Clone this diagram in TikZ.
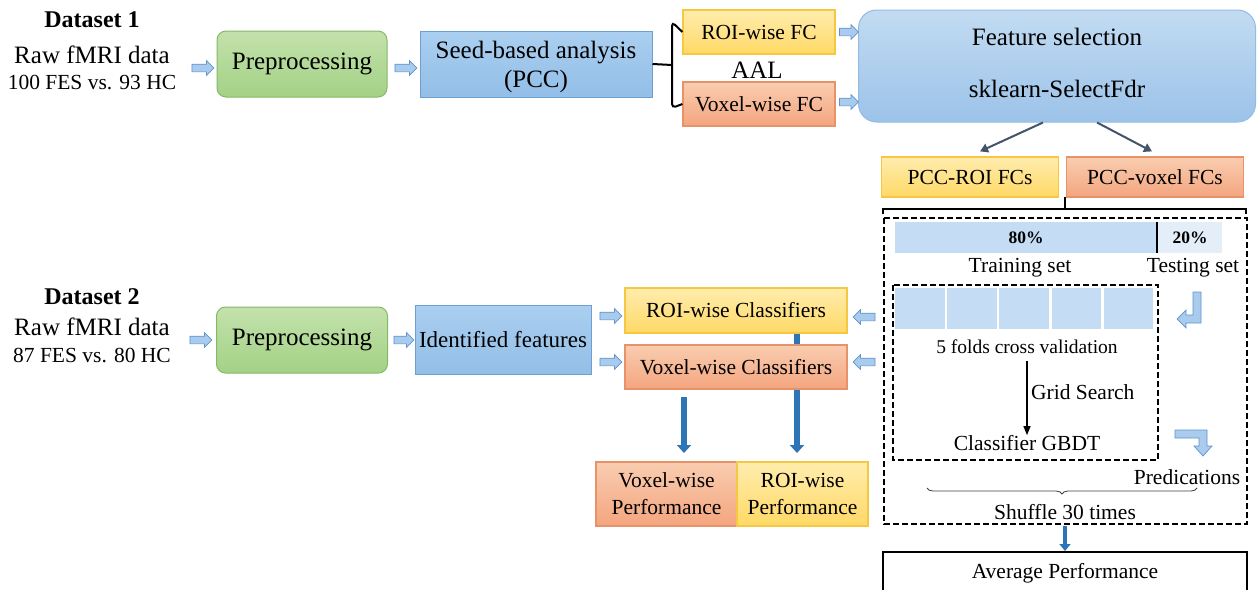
\documentclass[tikz,border=0pt]{standalone}
\usepackage{fontspec}
\setmainfont{Liberation Serif}
\usetikzlibrary{shapes.arrows, arrows.meta, calc, decorations.pathreplacing}

\definecolor{grnT}{HTML}{C3E2AC}
\definecolor{grnB}{HTML}{A3D185}
\definecolor{grnL}{HTML}{86B866}
\definecolor{bluT}{HTML}{AACFF0}
\definecolor{bluB}{HTML}{93BEE7}
\definecolor{bluL}{HTML}{6E9FD4}
\definecolor{fsT}{HTML}{C2DBF2}
\definecolor{fsB}{HTML}{9CC3E9}
\definecolor{fsL}{HTML}{94BBE3}
\definecolor{yelT}{HTML}{FFEDAE}
\definecolor{yelB}{HTML}{FFD966}
\definecolor{yelL}{HTML}{F6C743}
\definecolor{orgT}{HTML}{F9CDB0}
\definecolor{orgB}{HTML}{F4A57F}
\definecolor{orgL}{HTML}{E8926A}
\definecolor{arrF}{HTML}{A9CBEE}
\definecolor{arrL}{HTML}{5E93CC}
\definecolor{deepblue}{HTML}{2E75B6}
\definecolor{slate}{HTML}{44546A}
\definecolor{barA}{HTML}{C5DDF4}
\definecolor{barB}{HTML}{E3EEF9}

\newcommand\fsz[2]{\fontsize{#1}{#2}\selectfont}

\tikzset{
  tx/.style={inner sep=0pt, font=\fsz{21.5}{25}},
  txbig/.style={inner sep=0pt, font=\fsz{25}{29}},
  greenbox/.style={draw=grnL, line width=1pt, top color=grnT, bottom color=grnB,
    rounded corners=9pt, inner sep=0pt, font=\fsz{25}{29}},
  bluebox/.style={draw=bluL, line width=1pt, top color=bluT, bottom color=bluB,
    inner sep=0pt, align=center},
  yelbox/.style={draw=yelL, line width=1.2pt, top color=yelT, bottom color=yelB,
    inner sep=0pt, align=center, font=\fsz{21.5}{27}},
  orgbox/.style={draw=orgL, line width=1.2pt, top color=orgT, bottom color=orgB,
    inner sep=0pt, align=center, font=\fsz{21.5}{27}},
  blockarrow/.style={single arrow, draw=arrL, fill=arrF, line width=0.7pt,
    minimum height=22pt, inner xsep=0pt, inner ysep=3.5pt,
    single arrow head extend=3.5pt},
  leftarrow/.style={blockarrow, shape border rotate=180},
  thickarrow/.style={draw=deepblue, line width=6pt, -{Triangle[length=8pt,width=14pt]}},
  slatearrow/.style={draw=slate, line width=2pt, -{Triangle[length=8pt,width=9pt]}},
  dashbox/.style={draw=black, line width=1.6pt, dash pattern=on 6pt off 3pt},
  lbox/.style={draw=arrL, fill=arrF, line width=0.7pt},
}

\begin{document}
\begin{tikzpicture}[x=1pt,y=-1pt]
\useasboundingbox (0,0) rectangle (1258,589);
\clip (0,0) rectangle (1258,589);
\fill[white] (0,0) rectangle (1258,589);

% ---------- Dataset 1 row ----------
\node[inner sep=0pt, font=\bfseries\fsz{24}{28}] (ds1) at (92,20) {Dataset 1};
\node[txbig] (raw1) at (92,55) {Raw fMRI data};
\node[tx] (n1) at (92,83) {100 FES vs. 93 HC};

\node[greenbox, minimum width=170pt, minimum height=66pt] (pre1) at (302,64) {Preprocessing};
\node[bluebox, minimum width=232pt, minimum height=66pt] (seed) at (536,64) {};
\node[txbig, align=center] (seedt) at (536,67) {Seed-based analysis\\(PCC)};

\node[blockarrow] (a1) at (201,68) {};
\node[blockarrow] (a2) at (404,68) {};

\node[yelbox, minimum width=152pt, minimum height=44pt] (roifc) at (759,32) {ROI-wise FC};
\node[orgbox, minimum width=152pt, minimum height=44pt] (voxfc) at (759,104) {Voxel-wise FC};
\node[txbig] (aal) at (757,70) {AAL};

% bracket from seed-based analysis to the two FC boxes
\draw[line width=2pt] (seed.east) -- (672,65);
\draw[line width=2pt, rounded corners=4pt] (roifc.west) -- (672,22) -- (672,108) -- (voxfc.west);

\node[draw=fsL, line width=1pt, top color=fsT, bottom color=fsB, rounded corners=18pt,
  minimum width=397pt, minimum height=112pt, inner sep=0pt] (fs) at (1057,66) {};
\node[txbig] (fsa) at (1057,37) {Feature selection};
\node[txbig] (fsb) at (1057,89) {sklearn-SelectFdr};

\node[blockarrow, minimum height=19pt] (a3) at (847,32) {};
\node[blockarrow, minimum height=19pt] (a4) at (847,102) {};

\node[yelbox, minimum width=177pt, minimum height=40pt] (pccroi) at (970,177) {PCC-ROI FCs};
\node[orgbox, minimum width=177pt, minimum height=40pt] (pccvox) at (1155,177) {PCC-voxel FCs};

\draw[slatearrow] ($(fs.south)+(-14,0)$) -- ($(pccroi.north)+(10,-5)$);
\draw[slatearrow] ($(fs.south)+(40,0)$) -- ($(pccvox.north)+(-3,-5)$);

% bracket joining the two feature sets
\draw[line width=1.5pt] (883,214) -- (883,209) -- (1246,209) -- (1246,214);
\draw[line width=1.5pt] (1065,209) -- (1065,197);

% ---------- evaluation loop ----------
\draw[dashbox] (884,218) rectangle (1247,524);
\fill[barA] (895,222) rectangle (1157,253);
\fill[barB] (1157,222) rectangle (1222,253);
\draw[line width=1.3pt] (1157,222) -- (1157,253);
\node[inner sep=0pt, font=\bfseries\fsz{17.5}{20}] (p80) at (1026,238) {80\%};
\node[inner sep=0pt, font=\bfseries\fsz{17.5}{20}] (p20) at (1190,238) {20\%};
\node[tx] (train) at (1020,268) {Training set};
\node[tx] (test) at (1193,268) {Testing set};

\draw[dashbox] (893,285) rectangle (1158,460);
\foreach \i in {0,...,4}{
  \fill[barA] ({895+\i*52.2},288) rectangle ({895+\i*52.2+49.6},329);
}
\node[inner sep=0pt, font=\fsz{19.5}{23}] (cv) at (1027,347) {5 folds cross validation};
\node[tx] (gbdt) at (1027,443) {Classifier GBDT};
\draw[line width=1.3pt, -{Triangle[length=9pt,width=7pt]}] (1027,361) -- (gbdt.north);
\node[tx, anchor=west] (grid) at (1031,392) {Grid Search};

% testing-set arrow (bent, pointing left)
\filldraw[lbox] (1193,292) -- (1201,292) -- (1201,323) -- (1186,323) -- (1186,328)
  -- (1177,319) -- (1186,310) -- (1186,315) -- (1193,315) -- cycle;
% predictions arrow (bent, pointing down)
\filldraw[lbox] (1175,430) -- (1207,430) -- (1207,446) -- (1212,446) -- (1203,456)
  -- (1194,446) -- (1199,446) -- (1199,438) -- (1175,438) -- cycle;

\node[tx] (pred) at (1187,477) {Predications};
\draw[line width=0.8pt, black!75, decorate, decoration={brace, mirror, amplitude=6pt}]
  (927,488) -- (1197,488);
\node[tx] (shuf) at (1065,512) {Shuffle 30 times};

\node[draw, line width=1.5pt, minimum width=364pt, minimum height=46pt, inner sep=0pt,
  anchor=north] (avg) at (1065,551) {};
\node[tx] (avgt) at (1065,573) {Average Performance};
\draw[draw=deepblue, line width=4pt, -{Triangle[length=7pt,width=11pt]}] (1065,526) -- (avg.north);

% ---------- Dataset 2 row ----------
\node[inner sep=0pt, font=\bfseries\fsz{24}{28}] (ds2) at (92,297) {Dataset 2};
\node[txbig] (raw2) at (92,327) {Raw fMRI data};
\node[tx] (n2) at (92,355) {87 FES vs. 80 HC};

\node[greenbox, minimum width=171pt, minimum height=66pt] (pre2) at (302,340) {Preprocessing};
\node[bluebox, font=\fsz{23}{27}, minimum width=176pt, minimum height=69pt] (idf) at (503,340)
  {Identified features};

\node[blockarrow] (b1) at (199,340) {};
\node[blockarrow, minimum height=20pt] (b2) at (402,340) {};

\node[yelbox, minimum width=222pt, minimum height=45pt] (roicl) at (736,310.5) {ROI-wise Classifiers};
\draw[thickarrow] (roicl.south -| 797,0) -- (797,453);
\node[orgbox, minimum width=222pt, minimum height=44pt] (voxcl) at (736,367) {Voxel-wise Classifiers};

\node[blockarrow] (b3) at (609,316) {};
\node[blockarrow] (b4) at (609,362) {};
\node[leftarrow] (b5) at (866,317) {};
\node[leftarrow] (b6) at (866,362) {};

\node[orgbox, minimum width=141pt, minimum height=64pt] (voxperf) at (666.5,494)
  {Voxel-wise\\Performance};
\node[yelbox, minimum width=131pt, minimum height=64pt] (roiperf) at (802.5,494)
  {ROI-wise\\Performance};
\draw[thickarrow] (684,397) -- (684,453);
\end{tikzpicture}
\end{document}
